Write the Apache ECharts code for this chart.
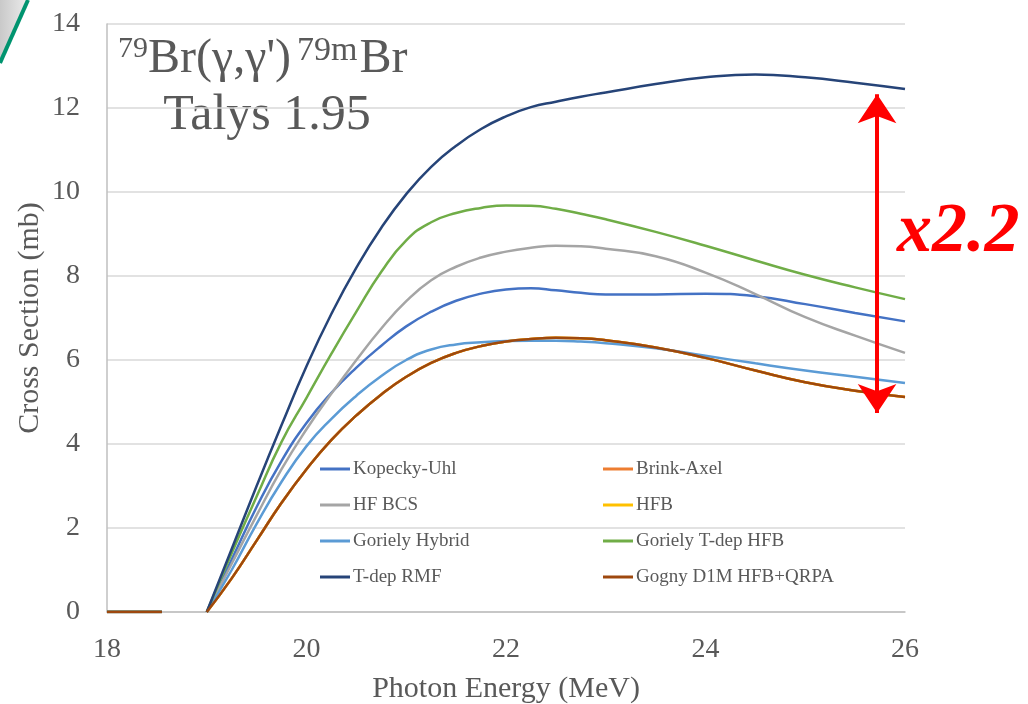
<!DOCTYPE html>
<html>
<head>
<meta charset="utf-8">
<title>79Br(γ,γ')79mBr – Talys 1.95</title>
<script src="https://cdn.jsdelivr.net/npm/echarts@6/dist/echarts.min.js"></script>
<style>
  html, body { margin: 0; padding: 0; background: #ffffff; }
  #chart { width: 1028px; height: 704px; }
</style>
</head>
<body>
<div id="chart"></div>
<script>
// Photon energy grid (MeV); '-' marks the break between the flat zero run and the rise
const energies = [18, 18.55, 18.8, 19, 19.25, 19.5, 19.75, 20, 20.25, 20.5, 20.75, 21, 21.25, 21.5, 21.75, 22, 22.25, 22.5, 22.75, 23, 23.5, 24, 24.5, 25, 25.5, 26];

// Cross sections (mb) for each gamma strength function model
const kopeckyUhl     = [0, 0, '-', 0, 1.25, 2.5, 3.6, 4.5, 5.22, 5.82, 6.34, 6.8, 7.15, 7.41, 7.58, 7.68, 7.71, 7.66, 7.6, 7.56, 7.56, 7.58, 7.52, 7.33, 7.12, 6.92];
const brinkAxel      = [0, 0, '-', 0, 0.8, 1.7, 2.6, 3.4, 4.1, 4.68, 5.18, 5.6, 5.93, 6.17, 6.33, 6.44, 6.5, 6.53, 6.52, 6.47, 6.3, 6.05, 5.75, 5.47, 5.27, 5.12];
const hfBcs          = [0, 0, '-', 0, 1.15, 2.3, 3.4, 4.35, 5.2, 6.0, 6.75, 7.4, 7.9, 8.22, 8.44, 8.58, 8.67, 8.72, 8.71, 8.65, 8.47, 8.08, 7.57, 7.02, 6.58, 6.17];
const hfb            = [0, 0, '-', 0, 0.8, 1.7, 2.6, 3.4, 4.1, 4.68, 5.18, 5.6, 5.93, 6.17, 6.33, 6.44, 6.5, 6.53, 6.52, 6.47, 6.3, 6.05, 5.75, 5.47, 5.27, 5.12];
const gorielyHybrid  = [0, 0, '-', 0, 1.0, 2.1, 3.1, 3.95, 4.6, 5.15, 5.62, 6.0, 6.25, 6.37, 6.42, 6.45, 6.46, 6.46, 6.44, 6.4, 6.28, 6.1, 5.92, 5.75, 5.6, 5.45];
const gorielyTdepHfb = [0, 0, '-', 0, 1.4, 2.75, 4.05, 5.1, 6.15, 7.15, 8.1, 8.85, 9.28, 9.5, 9.62, 9.68, 9.67, 9.6, 9.48, 9.35, 9.05, 8.72, 8.37, 8.03, 7.73, 7.45];
const tdepRmf        = [0, 0, '-', 0, 1.5, 3.0, 4.45, 5.85, 7.1, 8.2, 9.15, 9.95, 10.6, 11.1, 11.5, 11.8, 12.02, 12.15, 12.27, 12.37, 12.57, 12.73, 12.8, 12.73, 12.6, 12.45];
const gognyD1m       = [0, 0, '-', 0, 0.8, 1.7, 2.6, 3.4, 4.1, 4.68, 5.18, 5.6, 5.93, 6.17, 6.33, 6.44, 6.5, 6.53, 6.52, 6.47, 6.3, 6.05, 5.75, 5.47, 5.27, 5.12];

// Axis ticks
const xTicks = [18, 20, 22, 24, 26];
const yTicks = [0, 2, 4, 6, 8, 10, 12, 14];

// Spread between the highest and lowest model at the upper end of the range
const spreadArrow = { energy: 25.72, top: 12.33, bottom: 4.74, label: 'x2.2' };

const models = [
  { name: 'Kopecky-Uhl',          values: kopeckyUhl,     color: '#4472C4' },
  { name: 'Brink-Axel',           values: brinkAxel,      color: '#ED7D31' },
  { name: 'HF BCS',               values: hfBcs,          color: '#A5A5A5' },
  { name: 'HFB',                  values: hfb,            color: '#FFC000' },
  { name: 'Goriely Hybrid',       values: gorielyHybrid,  color: '#5B9BD5' },
  { name: 'Goriely T-dep HFB',    values: gorielyTdepHfb, color: '#70AD47' },
  { name: 'T-dep RMF',            values: tdepRmf,        color: '#264478' },
  { name: 'Gogny D1M HFB+QRPA',   values: gognyD1m,       color: '#9E480E' }
];

const SERIF = "'Liberation Serif', 'Times New Roman', Times, serif";
const TEXT = '#595959';

const chart = echarts.init(document.getElementById('chart'), null, { renderer: 'canvas' });

const lineSeries = models.map(m => ({
  name: m.name,
  type: 'line',
  data: energies.map((e, i) => [e, m.values[i]]),
  showSymbol: false,
  smooth: 0.5,
  connectNulls: false,
  lineStyle: { color: m.color, width: 2.5 },
  itemStyle: { color: m.color },
  emphasis: { disabled: true },
  silent: true
}));

// Red double-headed arrow marking the model spread
lineSeries.push({
  name: 'spread',
  type: 'line',
  data: [],
  silent: true,
  markLine: {
    silent: true,
    symbol: ['arrow', 'arrow'],
    symbolSize: [29, 29],
    label: { show: false },
    lineStyle: { color: '#FF0000', width: 4, type: 'solid' },
    emphasis: { disabled: true },
    data: [[
      { coord: [spreadArrow.energy, spreadArrow.top] },
      { coord: [spreadArrow.energy, spreadArrow.bottom] }
    ]]
  }
});

const legendCommon = {
  orient: 'vertical',
  icon: 'rect',
  itemWidth: 30,
  itemHeight: 3,
  itemGap: 16,
  padding: 0,
  selectedMode: false,
  textStyle: { fontFamily: SERIF, fontSize: 19, color: TEXT, lineHeight: 20, padding: [0, 0, 0, -2] }
};

const option = {
  backgroundColor: '#ffffff',
  animation: false,
  grid: { left: 107, right: 123, top: 24, bottom: 92, containLabel: false, outerBoundsMode: 'none' },
  xAxis: {
    type: 'value',
    min: xTicks[0],
    max: xTicks[xTicks.length - 1],
    interval: 2,
    name: 'Photon Energy (MeV)',
    nameLocation: 'middle',
    nameGap: 62,
    nameMoveOverlap: false,
    nameTextStyle: { fontFamily: SERIF, fontSize: 30, color: TEXT },
    axisLine: { show: true, lineStyle: { color: '#BFBFBF', width: 1.5 } },
    axisTick: { show: false },
    splitLine: { show: false },
    axisLabel: { fontFamily: SERIF, fontSize: 28, color: TEXT, margin: 24 }
  },
  yAxis: {
    type: 'value',
    min: yTicks[0],
    max: yTicks[yTicks.length - 1],
    interval: 2,
    name: 'Cross Section (mb)',
    nameLocation: 'middle',
    nameGap: 62,
    nameMoveOverlap: false,
    nameTextStyle: { fontFamily: SERIF, fontSize: 30, color: TEXT },
    axisLine: { show: true, lineStyle: { color: '#BFBFBF', width: 1.5 } },
    axisTick: { show: false },
    splitLine: { show: true, lineStyle: { color: '#D9D9D9', width: 1.5 } },
    axisLabel: { fontFamily: SERIF, fontSize: 28, color: TEXT, margin: 27 }
  },
  legend: [
    Object.assign({ left: 320, top: 459, data: ['Kopecky-Uhl', 'HF BCS', 'Goriely Hybrid', 'T-dep RMF'] }, legendCommon),
    Object.assign({ left: 603, top: 459, data: ['Brink-Axel', 'HFB', 'Goriely T-dep HFB', 'Gogny D1M HFB+QRPA'] }, legendCommon)
  ],
  graphic: [
    // slide corner decoration
    {
      type: 'polygon',
      silent: true,
      shape: { points: [[0, 0], [28, 0], [0, 63]] },
      style: {
        fill: new echarts.graphic.LinearGradient(0, 0, 1, 0, [
          { offset: 0, color: '#c9c9c9' },
          { offset: 1, color: '#ececec' }
        ])
      }
    },
    {
      type: 'line',
      silent: true,
      shape: { x1: 28, y1: 0, x2: 0, y2: 63 },
      style: { stroke: '#00946F', lineWidth: 4 }
    },
    // reaction and code annotation
    {
      type: 'text',
      silent: true,
      left: 118,
      top: 24,
      style: {
        text: '{sup|79}{base|Br(γ,γ\')}{sup2|79m}{base|Br}',
        fill: TEXT,
        rich: {
          base: { fontFamily: SERIF, fontSize: 48, lineHeight: 70, fill: TEXT },
          sup: { fontFamily: SERIF, fontSize: 30, lineHeight: 34, verticalAlign: 'top', fill: TEXT, padding: [10, 0, 0, 0] },
          sup2: { fontFamily: SERIF, fontSize: 34, lineHeight: 36, verticalAlign: 'top', fill: TEXT, padding: [10, 2, 0, 6] }
        }
      }
    },
    {
      type: 'text',
      silent: true,
      x: 267,
      y: 116,
      style: {
        text: 'Talys 1.95',
        fontFamily: SERIF,
        fontSize: 50,
        fill: TEXT,
        align: 'center',
        verticalAlign: 'middle'
      }
    },
    {
      type: 'text',
      silent: true,
      x: 897,
      y: 233,
      style: {
        text: spreadArrow.label,
        fontFamily: SERIF,
        fontSize: 70,
        fontWeight: 'bold',
        fontStyle: 'italic',
        fill: '#FF0000',
        align: 'left',
        verticalAlign: 'middle'
      }
    }
  ],
  series: lineSeries
};

chart.setOption(option);
</script>
</body>
</html>
